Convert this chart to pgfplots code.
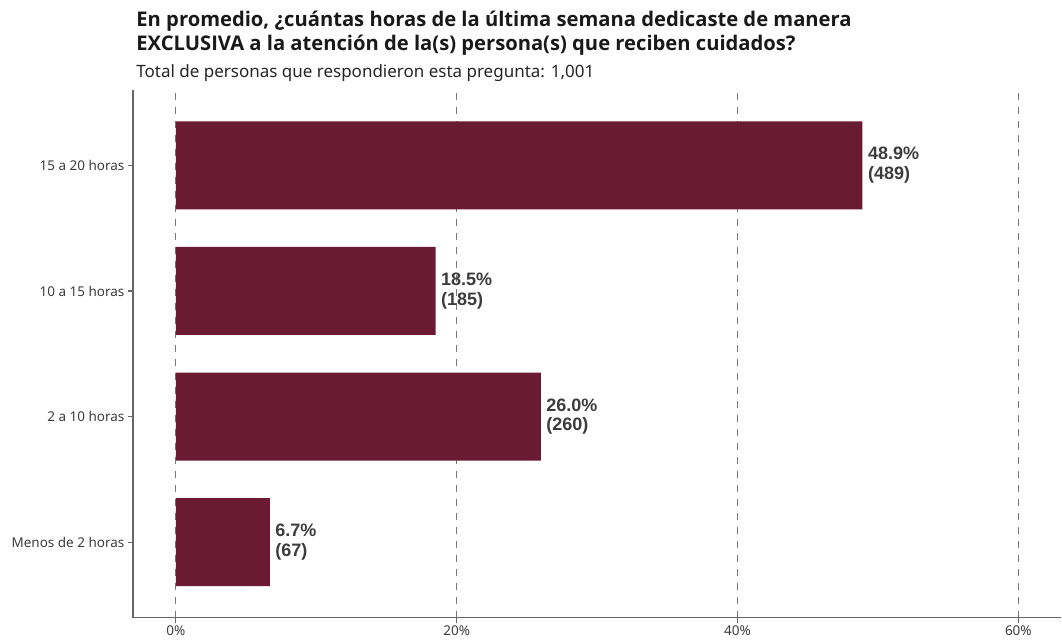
\documentclass[border=0pt]{standalone}
\usepackage{pgfplots}
\pgfplotsset{compat=1.18}
\usepackage{pgfplotstable}
\usepackage{fontspec}
\setmainfont{Noto Sans}
\newfontfamily\titlefont{Open Sans}
\newfontfamily\labfont{Liberation Sans}

\definecolor{barcol}{HTML}{6A1B33}
\definecolor{labcol}{HTML}{3C3C3C}
\definecolor{gridcol}{HTML}{777777}
\definecolor{axcol}{HTML}{666666}

% pos, percent, count
\pgfplotstableread{
pos pct n
0 6.7 67
1 26.0 260
2 18.5 185
3 48.9 489
}\datatab

\begin{document}
\begin{tikzpicture}
\begin{axis}[
    scale only axis,
    width=929pt, height=528pt,
    xbar, bar width=88pt,
    xmin=-3.06, xmax=63.06,
    ymin=-0.6, ymax=3.6,
    axis lines*=left,
    axis line style={axcol, line width=1.4pt},
    tick style={axcol, line width=1.2pt},
    tick align=outside,
    major tick length=5pt,
    xtick={0,20,40,60},
    xticklabel={\pgfmathprintnumber{\tick}\%},
    ytick={0,1,2,3},
    yticklabels={Menos de 2 horas, 2 a 10 horas, 10 a 15 horas, 15 a 20 horas},
    ticklabel style={font=\fontsize{13.5}{15}\selectfont, text=labcol},
    /pgf/number format/assume math mode=true,
    xmajorgrids=true,
    grid style={gridcol, line width=1.1pt, dash pattern=on 7pt off 7pt},
    nodes near coords={\pgfmathprintnumber[fixed,fixed zerofill,precision=1]{\xval}\%\\(\pgfmathprintnumber{\pgfplotspointmeta})},
    visualization depends on={x \as \xval},
    point meta=explicit,
    every node near coord/.append style={anchor=west, xshift=2pt, align=left,
        font=\labfont\bfseries\fontsize{18}{20}\selectfont, text=labcol},
]
\addplot[fill=barcol, draw=none] table[x=pct, y=pos, meta=n] {\datatab};
\end{axis}
\node[anchor=base west, font=\titlefont\bfseries\fontsize{20.2}{24}\selectfont, text=black!90] at (0pt,591pt)
  {En promedio, ¿cuántas horas de la última semana dedicaste de manera};
\node[anchor=base west, font=\titlefont\bfseries\fontsize{20.2}{24}\selectfont, text=black!90] at (0pt,567pt)
  {EXCLUSIVA a la atención de la(s) persona(s) que reciben cuidados?};
\node[anchor=base west, font=\fontsize{17}{20}\selectfont, text=black!85] at (0pt,540pt)
  {Total de personas que respondieron esta pregunta: 1,001};
\useasboundingbox (-133pt,-20pt) rectangle (929pt,618pt);
\end{tikzpicture}
\end{document}
